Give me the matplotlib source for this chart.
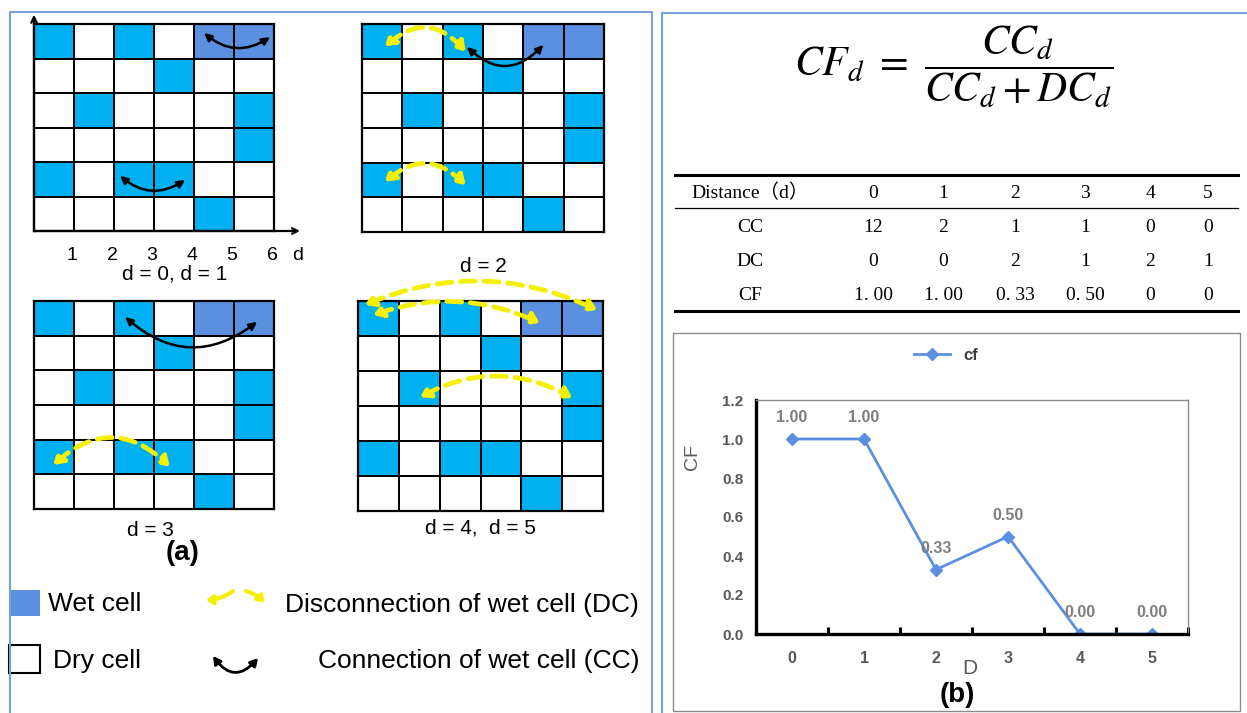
import matplotlib
matplotlib.use('Agg')
import matplotlib.pyplot as plt
import numpy as np
from matplotlib.colors import ListedColormap
from matplotlib.patches import Rectangle

plt.rcParams['font.family'] = ['Liberation Sans', 'DejaVu Sans']
plt.rcParams['mathtext.fontset'] = 'stix'

W, H = 1247, 713

# 0 = dry cell, 1 = wet cell, 2 = wet cell pair used as example
wet = np.array([
    [1, 0, 1, 0, 2, 2],
    [0, 0, 0, 1, 0, 0],
    [0, 1, 0, 0, 0, 1],
    [0, 0, 0, 0, 0, 1],
    [1, 0, 1, 1, 0, 0],
    [0, 0, 0, 0, 1, 0],
])
dist_ticks = [1, 2, 3, 4, 5, 6]

# connections drawn on each grid: (col0, row0, col1, row1, rad, kind)
arcs_d01 = [(4.25, 0.26, 5.9, 0.38, 0.37, 'cc'), (2.15, 4.4, 3.78, 4.52, 0.37, 'cc')]
arcs_d2 = [(0.57, 0.65, 2.57, 0.8, -0.5, 'dc'), (2.6, 0.66, 4.5, 0.6, 0.5, 'cc'),
           (0.57, 4.55, 2.57, 4.65, -0.46, 'dc')]
arcs_d3 = [(2.28, 0.46, 5.58, 0.6, 0.41, 'cc'), (0.48, 4.73, 3.4, 4.78, -0.46, 'dc')]
arcs_d45 = [(0.17, 0.11, 5.86, 0.26, -0.22, 'dc'), (0.37, 0.4, 4.46, 0.63, -0.2, 'dc'),
            (1.52, 2.75, 5.25, 2.77, -0.27, 'dc')]

# table / chart values
distance = [0, 1, 2, 3, 4, 5]
cc = [12, 2, 1, 1, 0, 0]
dc = [0, 0, 2, 1, 2, 1]
cf_text = ['1. 00', '1. 00', '0. 33', '0. 50', '0', '0']
cf = [1.00, 1.00, 0.33, 0.50, 0.00, 0.00]

cyan = '#00B0F0'
blue = '#5B8FE0'
yellow = '#F5F000'
frame_c = '#7A9FD8'
grey = '#7F7F7F'


def box(x0, y0, x1, y1):
    return [x0 / W, 1 - y1 / H, (x1 - x0) / W, (y1 - y0) / H]


def draw_arc(ax, x0, y0, x1, y1, rad, kind):
    if kind == 'cc':
        props = dict(arrowstyle='<|-|>,head_length=0.45,head_width=0.22', color='black',
                     lw=1.8, connectionstyle='arc3,rad=%s' % rad, shrinkA=0, shrinkB=0)
    else:
        props = dict(arrowstyle='<|-|>,head_length=0.55,head_width=0.35', color=yellow,
                     lw=3.4, linestyle=(0, (3.2, 1.8)), connectionstyle='arc3,rad=%s' % rad,
                     shrinkA=0, shrinkB=0)
    ax.annotate('', xy=(x1, y1), xytext=(x0, y0), arrowprops=props, annotation_clip=False)


def draw_grid(rect, arcs):
    ax = fig.add_axes(box(*rect))
    ax.pcolormesh(wet, cmap=ListedColormap(['white', cyan, blue]), vmin=0, vmax=2,
                  edgecolors='black', linewidth=1.2)
    ax.set_xlim(0, 6)
    ax.set_ylim(6, 0)
    ax.set_xticks([])
    ax.set_yticks([])
    for s in ax.spines.values():
        s.set_linewidth(1.6)
    for a in arcs:
        draw_arc(ax, *a)
    return ax


fig = plt.figure(figsize=(W / 100, H / 100), dpi=100)
bg = fig.add_axes([0, 0, 1, 1])
bg.set_xlim(0, W)
bg.set_ylim(H, 0)
bg.axis('off')

# panel frames
bg.plot([10, 10, 652, 652], [713, 12, 12, 713], color=frame_c, lw=1.5)
bg.plot([662, 662, 1247], [713, 13, 13], color=frame_c, lw=1.5)

# grids
g1 = draw_grid((34, 24, 274, 231), arcs_d01)
g2 = draw_grid((362, 24, 604, 232), arcs_d2)
g3 = draw_grid((34, 301, 274, 509), arcs_d3)
g4 = draw_grid((358, 301, 603, 511), arcs_d45)

g1.annotate('', xy=(0, -0.27), xytext=(0, 6), annotation_clip=False,
            arrowprops=dict(arrowstyle='->', color='black', lw=1.6, shrinkA=0, shrinkB=0))
g1.annotate('', xy=(6.65, 6), xytext=(0, 6), annotation_clip=False,
            arrowprops=dict(arrowstyle='->', color='black', lw=1.6, shrinkA=0, shrinkB=0))
for t in dist_ticks:
    g1.text(t - 0.05, 6.7, str(t), ha='center', va='center', fontsize=14)
g1.text(6.6, 6.7, 'd', ha='center', va='center', fontsize=14)

bg.text(175, 274, 'd = 0, d = 1', ha='center', va='center', fontsize=15)
bg.text(483, 267, 'd = 2', ha='center', va='center', fontsize=15)
bg.text(150, 530, 'd = 3', ha='center', va='center', fontsize=15)
bg.text(480, 528, 'd = 4,  d = 5', ha='center', va='center', fontsize=15)
bg.text(183, 553, '(a)', ha='center', va='center', fontsize=20, fontweight='bold')

# legend of panel (a)
bg.add_patch(Rectangle((10, 590), 30, 26, facecolor=blue, edgecolor='none'))
bg.add_patch(Rectangle((9, 645), 31, 28, facecolor='white', edgecolor='black', lw=1.5))
bg.text(48, 604, 'Wet cell', ha='left', va='center', fontsize=19)
bg.text(53, 661, 'Dry cell', ha='left', va='center', fontsize=19)
bg.text(639, 605, 'Disconnection of wet cell (DC)', ha='right', va='center', fontsize=19)
bg.text(639, 661, 'Connection of wet cell (CC)', ha='right', va='center', fontsize=19)
bg.annotate('', xy=(206, 600), xytext=(233, 591),
            arrowprops=dict(arrowstyle='-|>,head_length=0.35,head_width=0.25', color=yellow,
                            lw=3, connectionstyle='arc3,rad=-0.15', shrinkA=0, shrinkB=0))
bg.annotate('', xy=(264, 603), xytext=(246, 591),
            arrowprops=dict(arrowstyle='-|>,head_length=0.35,head_width=0.25', color=yellow,
                            lw=3, connectionstyle='arc3,rad=-0.15', shrinkA=0, shrinkB=0))
bg.annotate('', xy=(258, 658), xytext=(213, 656),
            arrowprops=dict(arrowstyle='<|-|>,head_length=0.45,head_width=0.25', color='black',
                            lw=2, connectionstyle='arc3,rad=0.64', shrinkA=0, shrinkB=0))

# formula
bg.text(954, 67, r'$CF_d\ =\ \dfrac{CC_d}{CC_d + DC_d}$', ha='center', va='center', fontsize=30)

# table
serif = ['Liberation Serif', 'Noto Sans CJK SC']
col_x = [750, 873, 943, 1015, 1085, 1150, 1208]
row_y = [193, 227, 262, 295]
rows = [['Distance（d）'] + [str(v) for v in distance],
        ['CC'] + [str(v) for v in cc],
        ['DC'] + [str(v) for v in dc],
        ['CF'] + cf_text]
for y, row in zip(row_y, rows):
    for x, s in zip(col_x, row):
        bg.text(x, y, s, ha='center', va='center', fontsize=14, family=serif)
bg.plot([675, 1238], [175, 175], color='black', lw=2.2)
bg.plot([675, 1238], [208, 208], color='black', lw=0.9)
bg.plot([675, 1238], [311, 311], color='black', lw=2.2)

# chart (b)
bg.add_patch(Rectangle((673, 333), 567, 378, facecolor='white', edgecolor='#8C8C8C', lw=1))
ax = fig.add_axes(box(756, 400, 1188, 634))
ax.plot(distance, cf, color=blue, lw=2, marker='D', ms=6, label='cf')
for x, y in zip(distance, cf):
    ax.annotate('%.2f' % y, (x, y), xytext=(0, 10), textcoords='offset points',
                ha='center', va='bottom', color=grey, fontsize=11.5, fontweight='bold')
ax.set_xlim(-0.5, 5.5)
ax.set_ylim(0, 1.2)
ax.set_xticks(distance)
ax.set_xticks(np.arange(-0.5, 5.6, 1), minor=True)
ax.set_yticks(np.arange(0, 1.21, 0.2))
ax.set_yticklabels(['%.1f' % v for v in np.arange(0, 1.21, 0.2)], fontweight='bold')
ax.set_xticklabels([str(v) for v in distance], fontweight='bold')
ax.tick_params(axis='x', which='major', length=0, pad=12, labelsize=11.5, labelcolor='#595959')
ax.tick_params(axis='x', which='minor', direction='in', length=5, width=2.2)
ax.tick_params(axis='y', length=0, pad=9, labelsize=11, labelcolor='#595959')
for side in ['left', 'bottom']:
    ax.spines[side].set_linewidth(2.4)
for side in ['top', 'right']:
    ax.spines[side].set_color('#8C8C8C')
    ax.spines[side].set_linewidth(1)
ax.legend(loc='center', bbox_to_anchor=(0.44, 1.19), frameon=False, handlelength=2.2,
          prop={'weight': 'bold', 'size': 12}, labelcolor='#404040')
bg.text(693, 457, 'CF', rotation=90, ha='center', va='center', fontsize=14, color='#595959')
bg.text(970, 668, 'D', ha='center', va='center', fontsize=15, color='#595959')
bg.text(957, 695, '(b)', ha='center', va='center', fontsize=20, fontweight='bold')

fig.savefig('out.png', dpi=100)
